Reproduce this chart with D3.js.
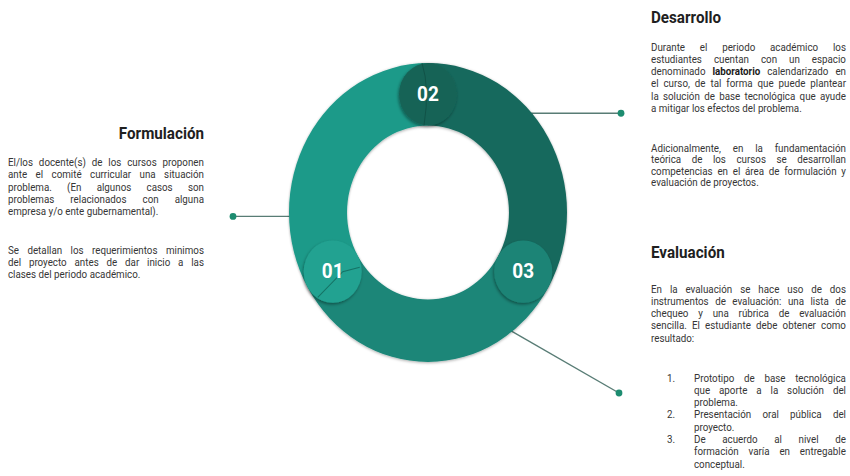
<!DOCTYPE html>
<html lang="es">
<head>
<meta charset="utf-8">
<script src="https://cdn.jsdelivr.net/npm/d3@7"></script>
<style>
  html, body { margin: 0; padding: 0; background: #ffffff; }
  svg { display: block; }
</style>
</head>
<body>
<svg id="chart" width="850" height="476"></svg>
<script>
// Stages of the project cycle, in drawing order
const stageNumbers = ["01", "02", "03"];
const stageTitles = ["Formulación", "Desarrollo", "Evaluación"];
const stageShares = [1, 1, 1];
const ringColors = ["#1f9a89", "#17695d", "#1a8678"];
const badgeColors = ["#22a291", "#166457", "#1c8476"];

// Paragraph lines (words wrapped in * are bold)
const formulacionP1 = [
  "El/los docente(s) de los cursos proponen",
  "ante el comité curricular una situación",
  "problema. (En algunos casos son",
  "problemas relacionados con alguna",
  "empresa y/o ente gubernamental)."
];
const formulacionP2 = [
  "Se detallan los requerimientos minimos",
  "del proyecto antes de dar inicio a las",
  "clases del periodo académico."
];
const desarrolloP1 = [
  "Durante el periodo académico los",
  "estudiantes cuentan con un espacio",
  "denominado *laboratorio* calendarizado en",
  "el curso, de tal forma que puede plantear",
  "la solución de base tecnológica que ayude",
  "a mitigar los efectos del problema."
];
const desarrolloP2 = [
  "Adicionalmente, en la fundamentación",
  "teórica de los cursos se desarrollan",
  "competencias en el área de formulación y",
  "evaluación de proyectos."
];
const evaluacionP1 = [
  "En la evaluación se hace uso de dos",
  "instrumentos de evaluación: una lista de",
  "chequeo y una rúbrica de evaluación",
  "sencilla. El estudiante debe obtener como",
  "resultado:"
];
const evaluacionList = [
  ["1.", ["Prototipo de base tecnológica", "que aporte a la solución del", "problema."]],
  ["2.", ["Presentación oral pública del", "proyecto."]],
  ["3.", ["De acuerdo al nivel de", "formación varía en entregable", "conceptual."]]
];
// Angle (degrees, clockwise from top) where each callout leaves the ring
const calloutAngles = [-91.5, 48, 143];

const svg = d3.select("#chart");

const cx = 428, cy = 212.5, stretchY = 1.075;
const rOuter = 139, rInner = 81, rBadge = 29;
const rMid = (rOuter + rInner) / 2;

const defs = svg.append("defs");
const shadow = defs.append("filter").attr("id", "soft").attr("x", "-20%").attr("y", "-20%").attr("width", "140%").attr("height", "140%");
shadow.append("feDropShadow").attr("dx", 0).attr("dy", 0.8).attr("stdDeviation", 1.3)
  .attr("flood-color", "#000").attr("flood-opacity", 0.35);
const badgeShadow = defs.append("filter").attr("id", "badge").attr("x", "-30%").attr("y", "-30%").attr("width", "160%").attr("height", "160%");
badgeShadow.append("feDropShadow").attr("dx", -0.8).attr("dy", 1.5).attr("stdDeviation", 1.6)
  .attr("flood-color", "#000").attr("flood-opacity", 0.4);

// Callout lines and dots
const lineColor = "#587c75", dotColor = "#1d8c70";
const toRad = d => d * Math.PI / 180;
const ringPoint = (deg, r) => [cx + r * Math.sin(toRad(deg)), cy - r * Math.cos(toRad(deg)) * stretchY];
const calloutEnds = [[233, null], [621, null], [619, 393]];
const callouts = svg.append("g");
calloutAngles.forEach((a, i) => {
  const [x0, y0] = ringPoint(a, rOuter - 1);
  const x1 = calloutEnds[i][0];
  const y1 = calloutEnds[i][1] == null ? y0 : calloutEnds[i][1];
  callouts.append("line").attr("x1", x0).attr("y1", y0).attr("x2", x1).attr("y2", y1)
    .attr("stroke", lineColor).attr("stroke-width", 1.4);
  callouts.append("circle").attr("cx", x1).attr("cy", y1).attr("r", 3.4).attr("fill", dotColor);
});

// Ring
const pie = d3.pie().sort(null).startAngle(-2 * Math.PI / 3).endAngle(4 * Math.PI / 3);
const arcs = pie(stageShares);
const arc = d3.arc().innerRadius(rInner).outerRadius(rOuter);
const ring = svg.append("g").attr("transform", `translate(${cx},${cy}) scale(1,${stretchY})`);
ring.append("g").attr("filter", "url(#soft)")
  .selectAll("path").data(arcs).join("path")
  .attr("d", arc).attr("fill", (d, i) => ringColors[i]);

// Badges at the start of each segment
const badges = ring.selectAll("g.badge").data(arcs).join("g").attr("class", "badge")
  .attr("transform", d => `translate(${rMid * Math.sin(d.startAngle)},${-rMid * Math.cos(d.startAngle)})`);
badges.append("circle").attr("r", rBadge).attr("fill", (d, i) => badgeColors[i]).attr("filter", "url(#badge)");
// seam strokes crossing the badges
badges.filter((d, i) => i === 1).append("path")
  .attr("d", "M-6,-29 Q2,-6 -4,29").attr("fill", "none").attr("stroke", "#0f4d42").attr("stroke-width", 0.9).attr("opacity", 0.8);
badges.filter((d, i) => i === 0).append("path")
  .attr("d", "M27,-4 L10,0 L-15,24").attr("fill", "none").attr("stroke", "#11665a").attr("stroke-width", 1).attr("opacity", 0.8);
badges.append("text")
  .attr("text-anchor", "middle").attr("dy", "0.36em").attr("y", -1)
  .attr("fill", "#ffffff").attr("font-family", "Roboto, 'Noto Sans', sans-serif")
  .attr("font-weight", 700).attr("font-size", 19)
  .text((d, i) => stageNumbers[i]);

// Text helpers
const FONT = "Roboto, 'Noto Sans', sans-serif";
const TEXT_COLOR = "#363636";
const measurer = svg.append("text").attr("font-family", FONT).attr("visibility", "hidden");
function wordWidth(w, size, weight) {
  measurer.attr("font-size", size).attr("font-weight", weight).text(w);
  return measurer.node().getComputedTextLength();
}
function parseWords(line) {
  return line.split(" ").map(w => {
    const bold = /^\*.*\*$/.test(w);
    return { t: bold ? w.slice(1, -1) : w, bold };
  });
}
// places a glyph run at (x, y) with the same slight vertical stretch as the ring
function placed(sel, x, y) {
  return sel.attr("transform", `translate(${x},${y}) scale(1,${stretchY})`);
}
// Draws justified lines between x0 and x1; the last line stays left-aligned
function paragraph(lines, x0, x1, yTop, step, opts = {}) {
  const size = opts.size || 9.8;
  const g = svg.append("g").attr("font-family", FONT).attr("font-size", size).attr("fill", TEXT_COLOR);
  lines.forEach((line, li) => {
    const words = parseWords(line);
    const widths = words.map(w => wordWidth(w.t, size, w.bold ? 700 : 400));
    const space = wordWidth("a a", size, 400) - wordWidth("aa", size, 400);
    const total = d3.sum(widths);
    const last = li === lines.length - 1;
    let gap = space;
    if (!last && words.length > 1) gap = (x1 - x0 - total) / (words.length - 1);
    let x = x0;
    const y = yTop + li * step;
    words.forEach((w, wi) => {
      placed(g.append("text"), x, y)
        .attr("font-weight", w.bold ? 700 : 400)
        .attr("fill", w.bold ? "#1a1a1a" : null)
        .text(w.t);
      x += widths[wi] + gap;
    });
  });
}
function title(txt, x, y, anchor) {
  placed(svg.append("text"), x, y).attr("text-anchor", anchor)
    .attr("font-family", FONT).attr("font-weight", 700).attr("font-size", 15.2)
    .attr("fill", "#1f1f1f").text(txt);
}

const STEP = 12.3;
// Formulación (left)
title(stageTitles[0], 204, 138.5, "end");
paragraph(formulacionP1, 8, 204, 166, STEP);
paragraph(formulacionP2, 8, 204, 253.5, STEP);

// Desarrollo (top right)
title(stageTitles[1], 651, 23, "start");
paragraph(desarrolloP1, 651, 846, 50.5, STEP);
paragraph(desarrolloP2, 651, 846, 151.5, 11.6);

// Evaluación (bottom right)
title(stageTitles[2], 651, 258, "start");
paragraph(evaluacionP1, 651, 846, 292.5, STEP);
let yList = 381.5;
evaluacionList.forEach(([num, lines]) => {
  placed(svg.append("text"), 667, yList).attr("font-family", FONT)
    .attr("font-size", 9.8).attr("fill", TEXT_COLOR).text(num);
  paragraph(lines, 694, 846, yList, STEP);
  yList += lines.length * STEP;
});
measurer.remove();
</script>
</body>
</html>
